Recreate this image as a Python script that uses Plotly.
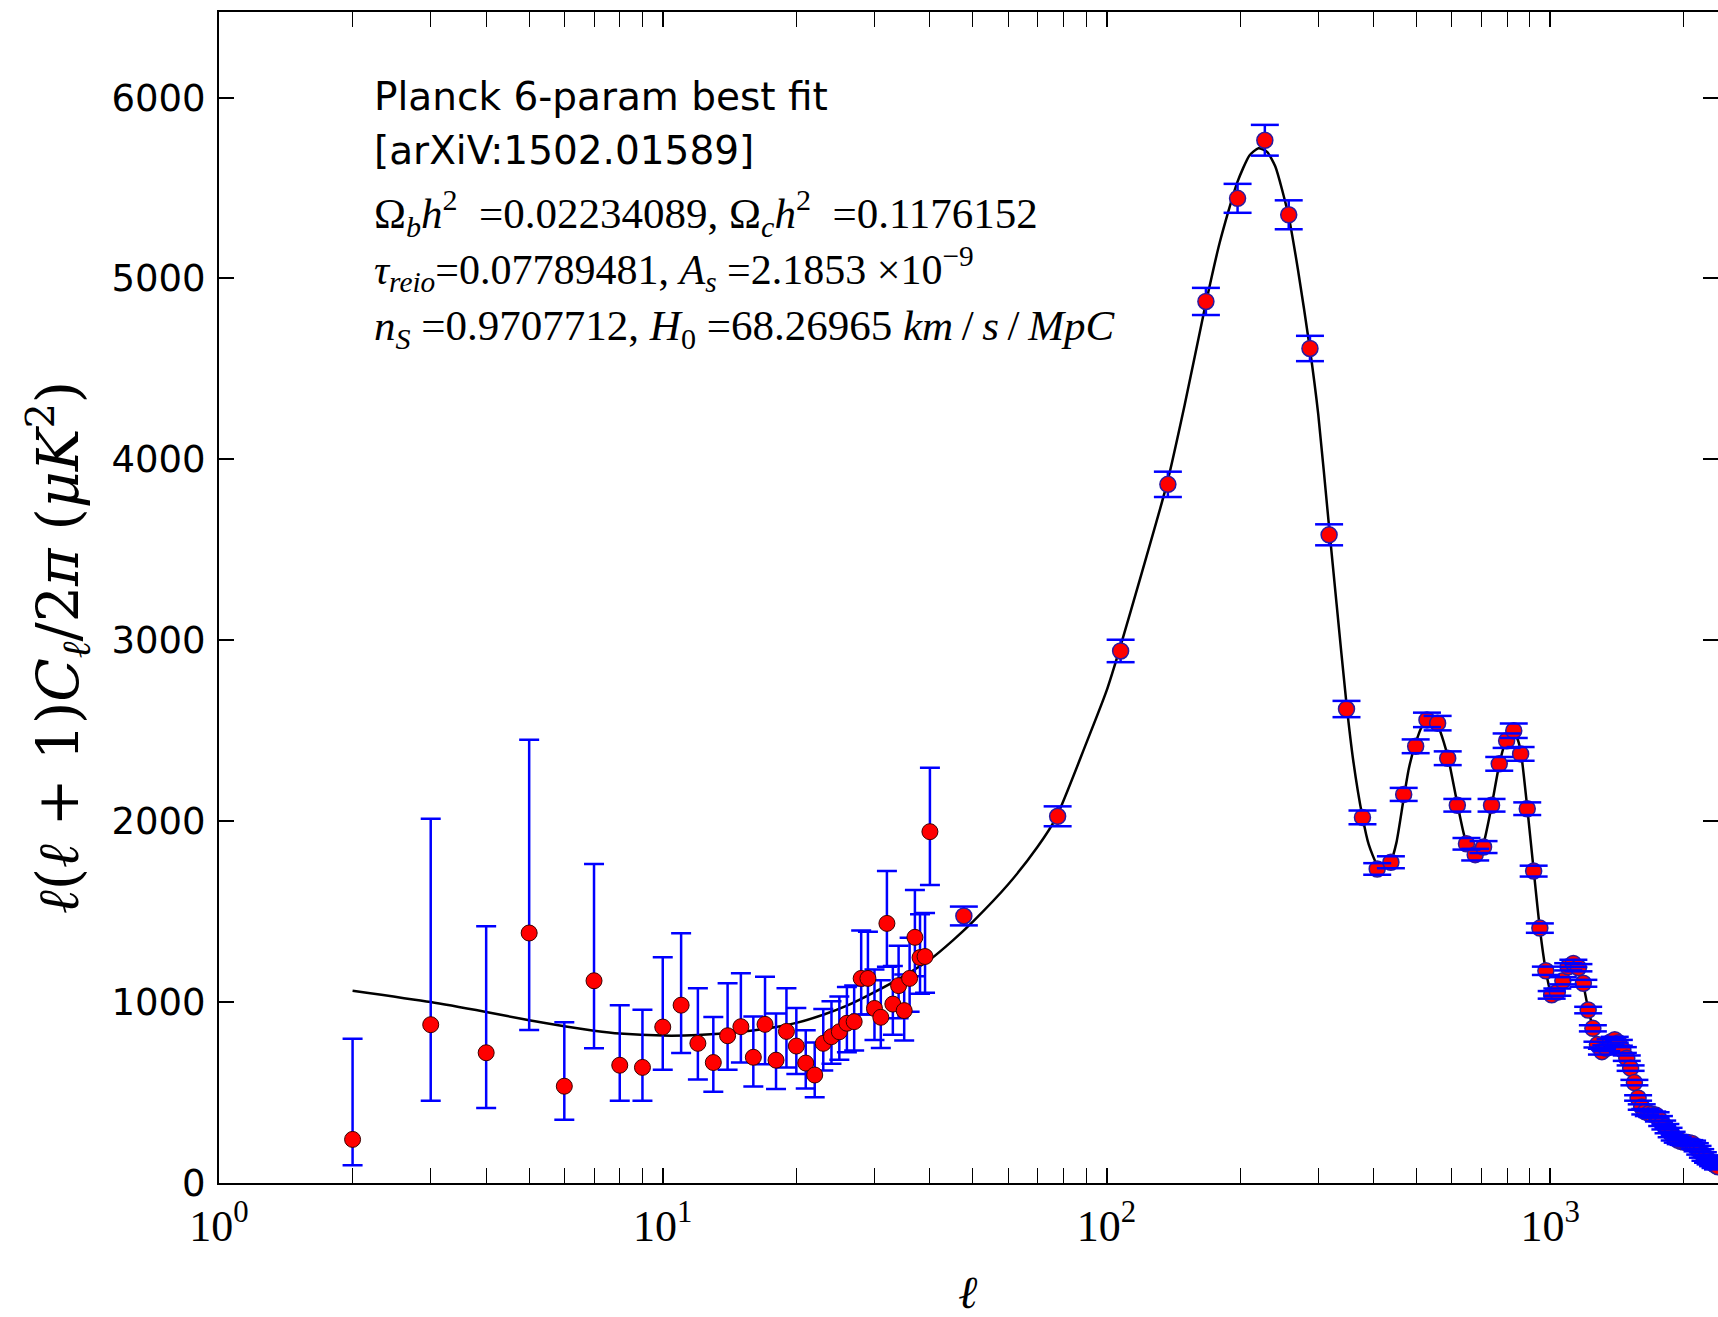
import plotly.graph_objects as go

# ---------------- data ----------------
# low-ell unbinned points
ell_low = [2, 3, 4, 5, 6, 7, 8, 9, 10, 11, 12, 13, 14, 15, 16, 17, 18, 19, 20, 21,
           22, 23, 24, 25, 26, 27, 28, 29, 30, 31, 32, 33, 34, 35, 36, 37, 38, 39, 40]
dl_low = [241, 875, 720, 1382, 535, 1118, 651, 639, 862, 983, 772, 666, 814, 864, 695, 877, 679, 838, 757, 663,
          597, 772, 809, 836, 883, 892, 1131, 1131, 965, 916, 1435, 989, 1091, 953, 1131, 1358, 1246, 1252, 1942]
err_low_plus = [556, 1138, 699, 1068, 353, 646, 331, 318, 386, 398, 304, 251, 290, 296, 226, 263, 258, 238, 210, 182,
                180, 190, 195, 195, 200, 200, 265, 258, 215, 205, 290, 210, 220, 200, 225, 262, 240, 240, 354]
err_low_minus = [143, 421, 306, 536, 185, 373, 197, 185, 236, 264, 200, 161, 188, 198, 162, 220, 160, 200, 155, 140,
                 123, 150, 150, 155, 160, 160, 200, 200, 175, 170, 240, 170, 180, 165, 185, 215, 200, 200, 295]

# high-ell binned points
ell_bin = [47.7, 77.6, 107.6, 137.5, 167.5, 197.4, 227.4, 257.4, 287.4, 317.4, 347.4, 377.4, 407.4, 437.4,
           467.4, 497.4, 527.4, 557.4, 587.4, 617.4, 647.4, 677.4, 707.4, 737.4, 767.4, 797.4, 827.4, 857.4,
           887.4, 917.4, 947.4, 977.4, 1007.4, 1037.4, 1067.4, 1097.4, 1127.4, 1157.4, 1187.4, 1217.4, 1247.4,
           1277.4, 1307.4, 1337.4, 1367.4, 1397.4, 1427.4, 1457.4, 1487.4, 1517.4, 1547.4, 1577.4, 1607.4,
           1637.4, 1667.4, 1697.4, 1727.4, 1757.4, 1787.4, 1817.4, 1847.4, 1877.4, 1907.4, 1937.4, 1967.4,
           1997.4, 2027.4, 2057.4, 2087.4, 2117.4, 2147.4, 2177.4, 2207.4, 2237.4, 2267.4, 2297.4, 2327.4,
           2357.4, 2387.4]
dl_bin = [1476, 2027, 2941, 3862, 4873, 5443, 5764, 5352, 4613, 3583, 2620, 2021, 1736, 1773,
          2148, 2414, 2560, 2542, 2348, 2088, 1875, 1815, 1857, 2088, 2317, 2445, 2500, 2372,
          2069, 1724, 1409, 1173, 1040, 1055, 1118, 1195, 1214, 1190, 1104, 956, 855,
          765, 726, 745, 780, 792, 775, 735, 690, 635, 555, 470, 420,
          394, 385, 380, 376, 355, 330, 311, 290, 268, 250, 238, 230,
          226, 224, 222, 219, 205, 190, 172, 155, 138, 127, 118, 108,
          98, 90]
err_bin = [52, 55, 62, 70, 75, 80, 85, 80, 70, 58, 45, 38, 32, 33,
           36, 38, 40, 40, 38, 35, 32, 32, 33, 35, 38, 40, 40, 38,
           35, 30, 26, 23, 21, 20, 20, 20, 20, 20, 19, 18, 17,
           16, 16, 16, 16, 16, 16, 16, 15, 15, 15, 15, 15,
           15, 15, 15, 15, 15, 15, 15, 15, 15, 15, 15, 15,
           15, 15, 15, 15, 15, 15, 15, 15, 15, 15, 15, 15,
           15, 15]

# best-fit theory curve
curve_ell = [2, 3, 4, 5, 6, 7, 8, 10, 12, 15, 18, 20, 23, 26, 30, 35, 40, 45, 50, 60, 70, 77, 90, 100, 107,
             120, 137, 150, 167, 180, 197, 210, 220, 230, 240, 257, 270, 287, 300, 317, 330, 347, 360, 377,
             390, 407, 420, 437, 450, 467, 480, 497, 515, 530, 545, 560, 575, 590, 617, 640, 660, 677, 690,
             707, 737, 767, 790, 810, 825, 845, 860, 887, 917, 947, 977, 1000, 1020, 1040, 1070, 1100, 1127,
             1150, 1180, 1217, 1250, 1280, 1310, 1340, 1370, 1400, 1430, 1460, 1490, 1520, 1550, 1580, 1610,
             1640, 1670, 1700, 1730, 1760, 1790, 1820, 1850, 1880, 1910, 1940, 1970, 2000, 2050, 2100, 2150,
             2200, 2250, 2300, 2350, 2400]
curve_dl = [1063, 1000, 945, 900, 866, 842, 826, 815, 818, 836, 862, 885, 930, 980, 1055, 1145, 1235, 1340, 1445,
            1650, 1860, 2020, 2430, 2720, 2950, 3370, 3870, 4300, 4850, 5200, 5530, 5680, 5720, 5700, 5620,
            5350, 5050, 4620, 4250, 3640, 3200, 2660, 2330, 2030, 1870, 1760, 1735, 1775, 1880, 2120, 2290,
            2430, 2530, 2565, 2560, 2520, 2440, 2340, 2100, 1920, 1830, 1810, 1825, 1875, 2080, 2310, 2430,
            2490, 2500, 2450, 2370, 2080, 1735, 1410, 1175, 1065, 1040, 1060, 1130, 1195, 1215, 1200, 1125,
            965, 850, 765, 730, 745, 775, 790, 775, 735, 685, 630, 550, 470, 420, 395, 385, 380, 372, 352,
            330, 308, 288, 266, 248, 236, 228, 225, 222, 212, 190, 158, 135, 117, 100, 87]
assert len(curve_ell) == len(curve_dl)

x_ticks = [1, 10, 100, 1000]
x_ticktext = ["10<sup>0</sup>", "10<sup>1</sup>", "10<sup>2</sup>", "10<sup>3</sup>"]
x_minor = [2, 3, 4, 5, 6, 7, 8, 9, 20, 30, 40, 50, 60, 70, 80, 90,
           200, 300, 400, 500, 600, 700, 800, 900, 2000]
y_ticks = [0, 1000, 2000, 3000, 4000, 5000, 6000]

info_lines = [
    "Planck 6-param best fit",
    "[arXiV:1502.01589]",
    "Ω<sub><i>b</i></sub><i>h</i><sup>2</sup>  =0.02234089, Ω<sub><i>c</i></sub><i>h</i><sup>2</sup>  =0.1176152",
    "<i>τ</i><sub><i>reio</i></sub>=0.07789481, <i>A</i><sub><i>s</i></sub> =2.1853 ×10<sup>−9</sup>",
    "<i>n</i><sub><i>S</i></sub> =0.9707712, <i>H</i><sub>0</sub> =68.26965 <i>km</i>\u2009/\u2009<i>s</i>\u2009/\u2009<i>MpC</i>",
]

# ---------------- figure ----------------
W, H = 1718, 1317
L, R, T, B = 219, 0, 12, 134
pw, ph = W - L - R, H - T - B

def px_x(x):
    return (x - L) / pw

def px_y(y):
    return (H - B - y) / ph

SERIF = "Liberation Serif, DejaVu Serif, serif"
SANS = "DejaVu Sans, sans-serif"
BLUE = "#0000ff"

fig = go.Figure()

fig.add_trace(go.Scatter(x=curve_ell, y=curve_dl, mode="lines",
                         line=dict(color="black", width=2.5, shape="spline", smoothing=0.6),
                         hoverinfo="skip", showlegend=False))

fig.add_trace(go.Scatter(x=ell_low, y=dl_low, mode="markers",
                         marker=dict(color="#ff0000", size=16, line=dict(color="#3a0000", width=1)),
                         error_y=dict(type="data", symmetric=False, array=err_low_plus,
                                      arrayminus=err_low_minus, color=BLUE, thickness=2.5, width=10),
                         showlegend=False))

fig.add_trace(go.Scatter(x=ell_bin, y=dl_bin, mode="markers",
                         marker=dict(color="#ff0000", size=16, line=dict(color="#2a1aa0", width=1.5)),
                         error_y=dict(type="data", array=err_bin, color=BLUE, thickness=2.5, width=0),
                         showlegend=False))

# error-bar caps of the binned points, drawn over the markers
cap_y = [d + e for d, e in zip(dl_bin, err_bin)] + [d - e for d, e in zip(dl_bin, err_bin)]
fig.add_trace(go.Scatter(x=ell_bin + ell_bin, y=cap_y, mode="markers",
                         marker=dict(symbol="line-ew", size=20, line=dict(color=BLUE, width=2.5)),
                         hoverinfo="skip", showlegend=False))

# helper trace so the right-hand tick-only axis is drawn
fig.add_trace(go.Scatter(x=[None], y=[None], yaxis="y2", showlegend=False, hoverinfo="skip"))

fig.update_layout(
    width=W, height=H,
    margin=dict(l=L, r=R, t=T, b=B, pad=0),
    paper_bgcolor="white", plot_bgcolor="white",
    showlegend=False,
    xaxis=dict(type="log", range=[0, 3.378], showgrid=False, zeroline=False,
               showline=True, linecolor="black", linewidth=2, mirror="allticks",
               ticks="inside", ticklen=15, tickwidth=1.5, tickcolor="black",
               tickvals=x_ticks, ticktext=x_ticktext,
               tickfont=dict(family=SERIF, size=44, color="black"),
               ticklabelstandoff=3,
               minor=dict(tickvals=x_minor, ticks="inside", ticklen=8, tickwidth=1.2,
                          tickcolor="black", showgrid=False)),
    yaxis=dict(range=[0, 6473], showgrid=False, zeroline=False,
               showline=True, linecolor="black", linewidth=2, mirror=False,
               ticks="inside", ticklen=15, tickwidth=1.5, tickcolor="black",
               tickvals=y_ticks, tickfont=dict(family=SANS, size=37, color="black"),
               ticklabelstandoff=4),
    yaxis2=dict(range=[0, 6473], overlaying="y", side="right", anchor="x",
                showgrid=False, zeroline=False, showline=False,
                ticks="inside", ticklen=15, tickwidth=1.5, tickcolor="black",
                tickvals=y_ticks, showticklabels=False),
)

annotations = []
line_y = [96.5, 150.5, 213.0, 269.0, 329.0]
line_size = [39, 39, 43, 42, 43]
for i, txt in enumerate(info_lines):
    fam = SANS if i < 2 else SERIF
    annotations.append(dict(text=txt, xref="paper", yref="paper", x=px_x(372), y=px_y(line_y[i]),
                            xanchor="left", yanchor="middle", showarrow=False,
                            font=dict(family=fam, size=line_size[i], color="black")))

annotations.append(dict(text="<i>ℓ</i>(<i>ℓ</i> + 1)<i>C</i><sub><i>ℓ</i></sub>/2<i>π</i> (<i>μK</i><sup>2</sup>)",
                        xref="paper", yref="paper", x=px_x(58), y=px_y(648), textangle=-90,
                        xanchor="center", yanchor="middle", showarrow=False,
                        font=dict(family="DejaVu Serif, serif", size=57, color="black")))
annotations.append(dict(text="<i>ℓ</i>", xref="paper", yref="paper", x=px_x(968), y=px_y(1292),
                        xanchor="center", yanchor="middle", showarrow=False,
                        font=dict(family=SERIF, size=46, color="black")))
fig.update_layout(annotations=annotations)

fig.write_html("out.html")
